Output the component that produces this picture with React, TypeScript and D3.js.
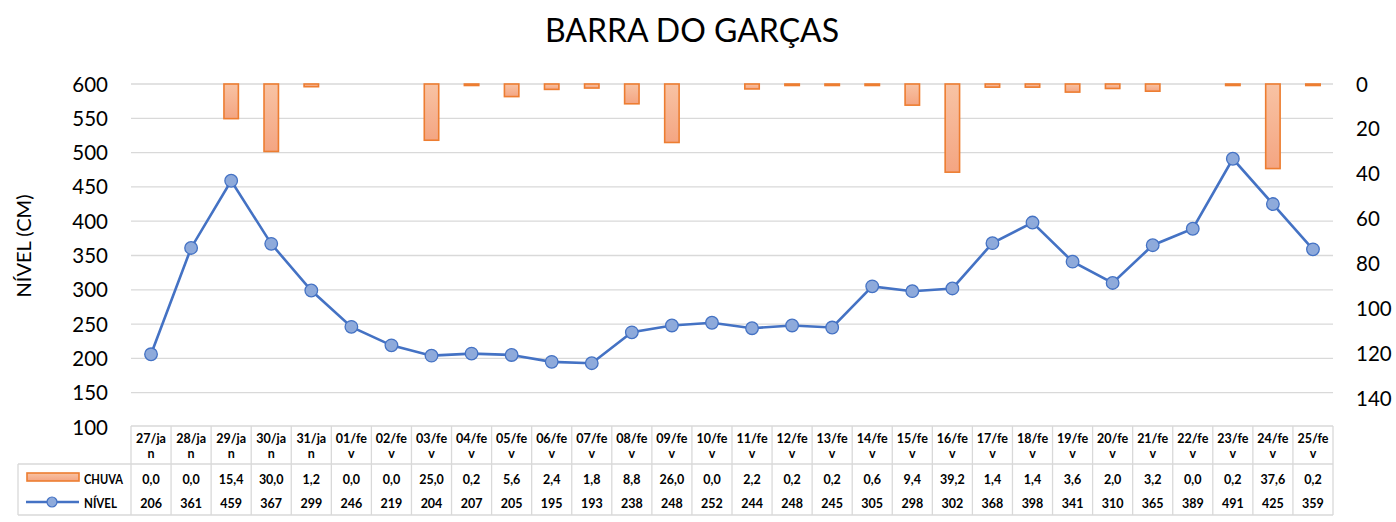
import React from "react";
import * as d3 from "d3";

const categories = ["27/jan","28/jan","29/jan","30/jan","31/jan","01/fev","02/fev","03/fev","04/fev","05/fev","06/fev","07/fev","08/fev","09/fev","10/fev","11/fev","12/fev","13/fev","14/fev","15/fev","16/fev","17/fev","18/fev","19/fev","20/fev","21/fev","22/fev","23/fev","24/fev","25/fev"];
const chuva = [0.0,0.0,15.4,30.0,1.2,0.0,0.0,25.0,0.2,5.6,2.4,1.8,8.8,26.0,0.0,2.2,0.2,0.2,0.6,9.4,39.2,1.4,1.4,3.6,2.0,3.2,0.0,0.2,37.6,0.2];
const nivel = [206,361,459,367,299,246,219,204,207,205,195,193,238,248,252,244,248,245,305,298,302,368,398,341,310,365,389,491,425,359];
const leftTicks = [100,150,200,250,300,350,400,450,500,550,600];
const rightTicks = [0,20,40,60,80,100,120,140];

const W = 1396, H = 522;
const plotL = 131, plotR = 1333, plotT = 84, plotB = 427;
const font = "Lato, 'Open Sans', sans-serif";
const grid = "#d9d9d9";

export default function App() {
  const x = d3.scaleBand<string>().domain(categories).range([plotL, plotR]).paddingInner(0).paddingOuter(0);
  const yL = d3.scaleLinear().domain([100, 600]).range([plotB, plotT]);
  const yR = d3.scaleLinear().domain([0, 152.5]).range([plotT, plotB]);
  const bw = x.bandwidth();
  const barW = bw * 0.36;
  const cx = (c: string) => (x(c) as number) + bw / 2;
  const line = d3.line<number>().x((_, i) => cx(categories[i])).y((d) => yL(d));
  const fmt = (v: number) => v.toFixed(1).replace(".", ",");

  const tTop = 426, tMid = 464, tBot = 515, legL = 18;
  const tfs = 12.5;

  return (
    <svg width={W} height={H} style={{ position: "absolute", left: 0, top: 0, background: "#fff" }} fontFamily={font}>
      <defs>
        <linearGradient id="barGrad" x1="0" y1="0" x2="0" y2="1">
          <stop offset="0%" stopColor="#f8c3a4" />
          <stop offset="100%" stopColor="#f4a582" />
        </linearGradient>
      </defs>
      <text x={692} y={42} textAnchor="middle" fontSize={32} fill="#000">BARRA DO GARÇAS</text>

      {leftTicks.filter((t) => t > 100).map((t) => (
        <line key={t} x1={plotL} x2={plotR} y1={yL(t)} y2={yL(t)} stroke={grid} strokeWidth={1.3} />
      ))}
      {leftTicks.map((t) => (
        <text key={t} x={108} y={yL(t) + 7.5} textAnchor="end" fontSize={20.5} fill="#000">{t}</text>
      ))}
      {rightTicks.map((t) => (
        <text key={t} x={1356} y={yR(t) + 7.5} textAnchor="start" fontSize={20.5} fill="#000">{t}</text>
      ))}
      <text transform={`translate(31,${246}) rotate(-90)`} textAnchor="middle" fontSize={20} fill="#000">NÍVEL (CM)</text>

      {chuva.map((v, i) => {
        const c = categories[i];
        if (v <= 0) return null;
        const h = Math.max(yR(v) - yR(0), 1.5);
        return (
          <rect key={c} x={cx(c) - barW / 2} y={yR(0)} width={barW} height={h} fill="url(#barGrad)" stroke="#ed7d31" strokeWidth={1.6} />
        );
      })}

      <path d={line(nivel) || ""} fill="none" stroke="#4472c4" strokeWidth={2.6} />
      {nivel.map((v, i) => (
        <circle key={i} cx={cx(categories[i])} cy={yL(v)} r={6.3} fill="#8eaadb" stroke="#4472c4" strokeWidth={1.3} />
      ))}

      {/* data table */}
      <g stroke={grid} strokeWidth={1.3} fill="none">
        <line x1={plotL} x2={plotR} y1={tTop} y2={tTop} />
        <line x1={legL} x2={plotR} y1={tMid} y2={tMid} />
        <line x1={legL} x2={plotR} y1={tBot} y2={tBot} />
        <line x1={legL} x2={legL} y1={tMid} y2={tBot} />
        {categories.map((c) => (
          <line key={c} x1={x(c) as number} x2={x(c) as number} y1={tTop} y2={tBot} />
        ))}
        <line x1={plotR} x2={plotR} y1={tTop} y2={tBot} />
      </g>
      {categories.map((c) => {
        const [a, b] = [c.slice(0, 5), c.slice(5)];
        return (
          <g key={c} fontSize={tfs} fontWeight="bold" textAnchor="middle" fill="#000">
            <text x={cx(c)} y={443}>{a}</text>
            <text x={cx(c)} y={458}>{b}</text>
          </g>
        );
      })}
      {chuva.map((v, i) => (
        <text key={i} x={cx(categories[i])} y={484} fontSize={tfs} fontWeight="bold" textAnchor="middle" fill="#000">{fmt(v)}</text>
      ))}
      {nivel.map((v, i) => (
        <text key={i} x={cx(categories[i])} y={508} fontSize={tfs} fontWeight="bold" textAnchor="middle" fill="#000">{v}</text>
      ))}
      <rect x={27} y={473} width={52} height={8} fill="url(#barGrad)" stroke="#ed7d31" strokeWidth={1.6} />
      <text x={84} y={484} fontSize={tfs} fontWeight="bold" fill="#000" textLength={39} lengthAdjust="spacingAndGlyphs">CHUVA</text>
      <line x1={26} x2={79} y1={502} y2={502} stroke="#4472c4" strokeWidth={2.6} />
      <circle cx={52} cy={502} r={5} fill="#8eaadb" stroke="#4472c4" strokeWidth={1.2} />
      <text x={84} y={508} fontSize={tfs} fontWeight="bold" fill="#000" textLength={33} lengthAdjust="spacingAndGlyphs">NÍVEL</text>
    </svg>
  );
}
